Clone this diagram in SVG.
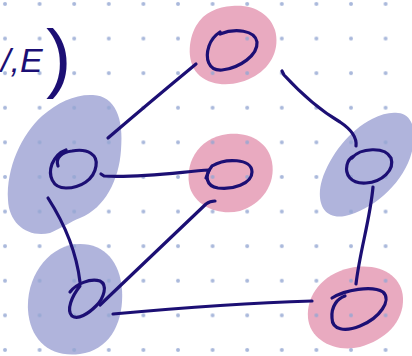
<svg xmlns="http://www.w3.org/2000/svg" width="412" height="356" viewBox="0 0 412 356">
<style>
.pink{fill:#e9aac0}
.blue{fill:#b0b4dc}
.ink{fill:none;stroke:#1c0f74;stroke-width:3.2;stroke-linecap:round;stroke-linejoin:round}
.lbl{fill:#1c0f74;font-family:"Liberation Sans",Arial,sans-serif}
</style>
<defs>
<pattern id="dots" x="0" y="0" width="34.6" height="34.6" patternUnits="userSpaceOnUse">
<circle cx="5" cy="4" r="2" fill="#93a6d2" fill-opacity="0.8"/>
</pattern>
</defs>
<rect width="412" height="356" fill="#ffffff"/>
<g id="blobs">
<path class="pink" d="M232,6 C255,4 270,15 275,30 C280,48 272,66 255,76 C238,86 215,88 200,76 C186,64 188,40 196,26 C204,12 218,7 232,6 Z"/>
<path class="pink" d="M228,134 C250,132 268,142 272,162 C276,184 262,204 240,211 C218,216 196,206 190,188 C184,166 196,138 228,134 Z"/>
<path class="blue" d="M93,95 C115,96 124,118 121,150 C119,180 105,208 80,218 C70,222 62,228 50,233 C28,238 9,224 8,200 C6,168 22,134 42,116 C58,102 76,94 93,95 Z"/>
<path class="blue" d="M80,244 C105,244 120,262 122,290 C124,322 110,350 80,354 C50,358 30,340 28,310 C26,275 50,244 80,244 Z"/>
<path class="blue" d="M398,113 C414,114 418,135 410,158 C400,186 372,210 345,216 C322,220 316,200 322,180 C330,155 350,130 372,119 C382,114 390,112 398,113 Z"/>
<path class="pink" d="M350,268 C380,262 402,276 403,298 C404,322 385,340 360,347 C335,353 310,340 308,318 C306,296 322,274 350,268 Z"/>
</g>
<rect width="412" height="356" fill="url(#dots)"/>
<g id="connectors">
<path class="ink" d="M108,138 Q150,102 196,64"/>
<path class="ink" d="M282,71 L284,75 C296,88 316,108 340,122 C352,130 357,138 356,146"/>
<path class="ink" d="M101,174 L104,176 C140,178 180,172 209,170 L206,178"/>
<path class="ink" d="M48,198 Q75,240 80,282"/>
<path class="ink" d="M100,305 L206,204 Q210,201 215,201"/>
<path class="ink" d="M113,314 C180,308 250,303 312,301"/>
<path class="ink" d="M373,187 C370,220 360,250 356,284"/>
</g>
<g id="n1"><path class="ink" d="M220,34 C235,28 255,30 257,42 C258,55 240,68 222,70 C208,71 205,58 209,46 C211,40 214,36 220,32"/></g>
<g id="n2"><path class="ink" d="M212,166 C225,158 252,158 252,172 C252,184 232,190 218,188 C206,186 204,176 212,166"/></g>
<g id="n3"><path class="ink" d="M58,166 C55,158 62,152 72,151 C88,148 98,155 96,166 C94,180 80,188 66,188 C52,188 48,175 52,164 C55,157 60,152 66,150"/></g>
<g id="n4"><path class="ink" d="M70,292 C76,284 90,278 100,281 C108,285 104,298 96,306 C88,314 78,320 72,316 C66,310 72,296 80,286"/></g>
<g id="n5"><path class="ink" d="M352,158 C360,148 385,146 391,158 C395,170 382,182 366,183 C350,184 345,174 347,165 C348,160 350,158 354,156"/></g>
<g id="n6"><path class="ink" d="M332,298 C345,290 372,285 383,292 C392,300 380,318 360,326 C345,332 332,330 332,318 C331,306 338,298 345,296"/></g>
<g id="label">
<text class="lbl" font-size="34" font-style="italic" x="1" y="72">/,E</text>
<text class="lbl" font-size="76" x="46" y="83">)</text>
</g>
</svg>
